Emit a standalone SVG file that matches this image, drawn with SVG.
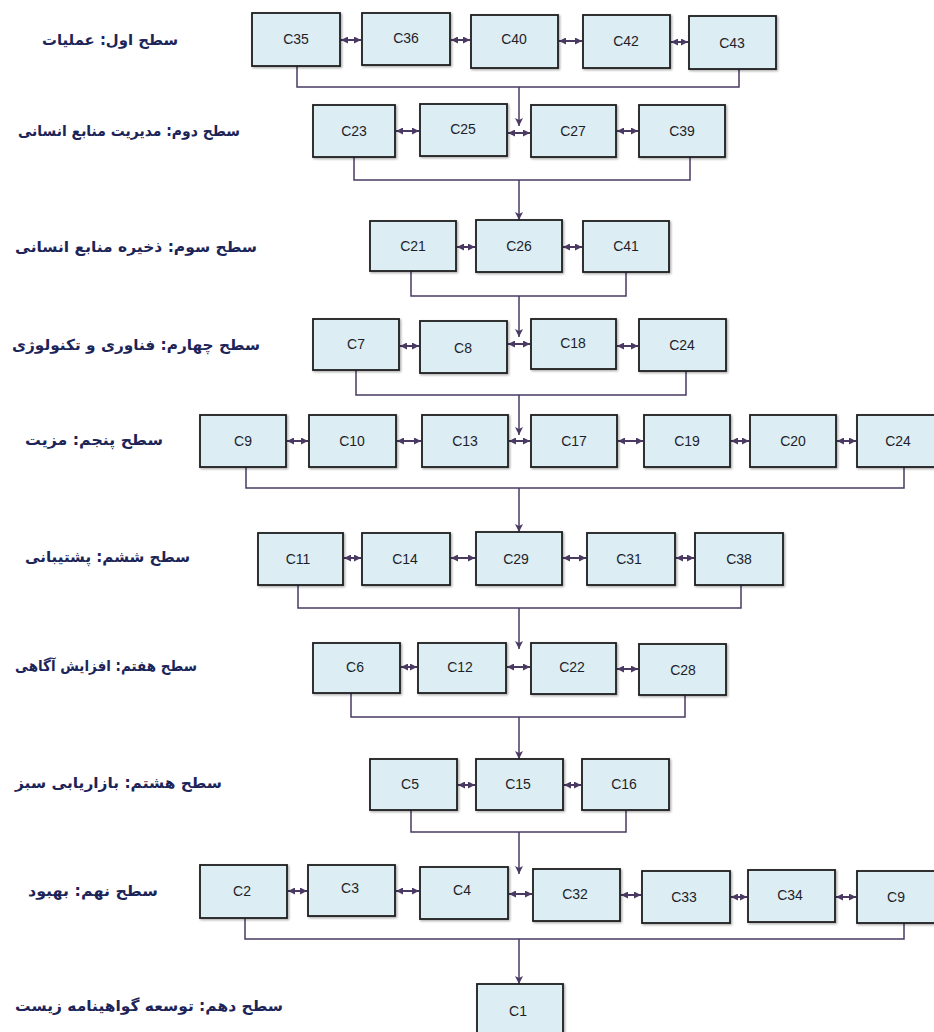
<svg xmlns="http://www.w3.org/2000/svg" width="934" height="1032" viewBox="0 0 934 1032">
<defs>
<marker id="ah" viewBox="0 0 8 8" refX="8" refY="4" markerWidth="8" markerHeight="8" markerUnits="userSpaceOnUse" orient="auto-start-reverse">
<path d="M0,0 L8,4 L0,8 L2,4 z" fill="#4a3a63"/>
</marker>
<marker id="dh" viewBox="0 0 6 6" refX="6" refY="3" markerWidth="7" markerHeight="7" markerUnits="userSpaceOnUse" orient="auto-start-reverse">
<path d="M0,0 L6,3 L0,6 z" fill="#4a3a63"/>
</marker>
<filter id="sh" x="-5%" y="-5%" width="115%" height="115%">
<feDropShadow dx="1.2" dy="1.2" stdDeviation="0.8" flood-color="#000" flood-opacity="0.35"/>
</filter>
</defs>
<style>
.b rect{fill:#dcedf3;stroke:#1c1c1c;stroke-width:1.8;filter:url(#sh)}
.b text{font-family:"Liberation Sans",Arial,sans-serif;font-size:14px;fill:#1e1e2a;text-anchor:middle}
.lab{font-family:"DejaVu Sans","Noto Sans",sans-serif;font-size:15px;font-weight:bold;fill:#1c2458;text-anchor:end}
.c path{fill:none;stroke:#4a3a63;stroke-width:1.5}
.c .a{marker-end:url(#ah)}
.c .d{stroke-width:2;marker-start:url(#dh);marker-end:url(#dh)}
</style>
<rect width="934" height="1032" fill="#ffffff"/>

<g id="labels">
<text class="lab" x="178" y="45" textLength="136" lengthAdjust="spacingAndGlyphs">سطح اول: عملیات</text>
<text class="lab" x="240" y="136" textLength="222" lengthAdjust="spacingAndGlyphs">سطح دوم: مدیریت منابع انسانی</text>
<text class="lab" x="257" y="252" textLength="242" lengthAdjust="spacingAndGlyphs">سطح سوم: ذخیره منابع انسانی</text>
<text class="lab" x="260" y="350" textLength="248" lengthAdjust="spacingAndGlyphs">سطح چهارم: فناوری و تکنولوژی</text>
<text class="lab" x="163" y="445" textLength="138" lengthAdjust="spacingAndGlyphs">سطح پنجم: مزیت</text>
<text class="lab" x="190" y="562" textLength="165" lengthAdjust="spacingAndGlyphs">سطح ششم: پشتیبانی</text>
<text class="lab" x="197" y="671" textLength="182" lengthAdjust="spacingAndGlyphs">سطح هفتم: افزایش آگاهی</text>
<text class="lab" x="222" y="788" textLength="207" lengthAdjust="spacingAndGlyphs">سطح هشتم: بازاریابی  سبز</text>
<text class="lab" x="158" y="896" textLength="130" lengthAdjust="spacingAndGlyphs">سطح نهم: بهبود</text>
<text class="lab" x="283" y="1011" textLength="268" lengthAdjust="spacingAndGlyphs">سطح دهم: توسعه گواهینامه زیست</text>
</g>

<g id="connectors" class="c">
<path d="M297,66 V87 H739 V69"/>
<path class="a" d="M519,87 V126"/>
<path class="d" d="M341,40 H361"/>
<path class="d" d="M451,40 H470"/>
<path class="d" d="M559,41 H582"/>
<path class="d" d="M671,42 H688"/>
<path d="M354,157 V180 H690 V157"/>
<path class="a" d="M519,180 V220"/>
<path class="d" d="M396,131 H419"/>
<path class="d" d="M508,133 H530"/>
<path class="d" d="M617,131 H638"/>
<path d="M411,271 V296 H626 V272"/>
<path class="a" d="M519,296 V337"/>
<path class="d" d="M457,247 H475"/>
<path class="d" d="M563,247 H582"/>
<path d="M356,370 V395 H686 V371"/>
<path class="a" d="M519,395 V435"/>
<path class="d" d="M400,346 H419"/>
<path class="d" d="M508,344 H530"/>
<path class="d" d="M617,346 H638"/>
<path d="M246,467 V488 H904 V467"/>
<path class="a" d="M519,488 V532"/>
<path class="d" d="M287,441 H308"/>
<path class="d" d="M397,441 H421"/>
<path class="d" d="M509,441 H530"/>
<path class="d" d="M618,441 H643"/>
<path class="d" d="M731,441 H749"/>
<path class="d" d="M837,441 H856"/>
<path d="M298,585 V608 H741 V585"/>
<path class="a" d="M519,608 V649"/>
<path class="d" d="M344,558 H361"/>
<path class="d" d="M451,558 H475"/>
<path class="d" d="M563,558 H586"/>
<path class="d" d="M676,558 H694"/>
<path d="M351,693 V717 H685 V695"/>
<path class="a" d="M519,717 V759"/>
<path class="d" d="M401,667 H417"/>
<path class="d" d="M507,667 H530"/>
<path class="d" d="M617,669 H638"/>
<path d="M411,810 V832 H626 V810"/>
<path class="a" d="M519,832 V874"/>
<path class="d" d="M458,785 H475"/>
<path class="d" d="M564,785 H581"/>
<path d="M245,918 V939 H904 V923"/>
<path class="a" d="M519,939 V984"/>
<path class="d" d="M288,891 H307"/>
<path class="d" d="M396,891 H419"/>
<path class="d" d="M509,894 H532"/>
<path class="d" d="M621,895 H641"/>
<path class="d" d="M731,897 H747"/>
<path class="d" d="M836,897 H856"/>
</g>

<g id="n-C35" class="b"><rect x="252" y="13" width="88" height="53"/><text x="296" y="44">C35</text></g>
<g id="n-C36" class="b"><rect x="362" y="13" width="88" height="52"/><text x="406" y="43">C36</text></g>
<g id="n-C40" class="b"><rect x="471" y="15" width="87" height="53"/><text x="514" y="44">C40</text></g>
<g id="n-C42" class="b"><rect x="583" y="15" width="87" height="53"/><text x="626" y="46">C42</text></g>
<g id="n-C43" class="b"><rect x="689" y="16" width="87" height="53"/><text x="732" y="48">C43</text></g>

<g id="n-C23" class="b"><rect x="313" y="105" width="82" height="52"/><text x="354" y="136">C23</text></g>
<g id="n-C25" class="b"><rect x="420" y="104" width="87" height="52"/><text x="463" y="134">C25</text></g>
<g id="n-C27" class="b"><rect x="531" y="105" width="85" height="52"/><text x="573" y="136">C27</text></g>
<g id="n-C39" class="b"><rect x="639" y="105" width="86" height="52"/><text x="682" y="136">C39</text></g>

<g id="n-C21" class="b"><rect x="370" y="221" width="86" height="50"/><text x="413" y="251">C21</text></g>
<g id="n-C26" class="b"><rect x="476" y="220" width="86" height="52"/><text x="519" y="251">C26</text></g>
<g id="n-C41" class="b"><rect x="583" y="221" width="86" height="51"/><text x="626" y="251">C41</text></g>

<g id="n-C7" class="b"><rect x="313" y="319" width="86" height="51"/><text x="356" y="349">C7</text></g>
<g id="n-C8" class="b"><rect x="420" y="321" width="87" height="52"/><text x="463" y="353">C8</text></g>
<g id="n-C18" class="b"><rect x="531" y="319" width="85" height="50"/><text x="573" y="348">C18</text></g>
<g id="n-C24a" class="b"><rect x="639" y="319" width="87" height="52"/><text x="682" y="350">C24</text></g>

<g id="n-C9a" class="b"><rect x="200" y="415" width="86" height="52"/><text x="243" y="446">C9</text></g>
<g id="n-C10" class="b"><rect x="309" y="415" width="87" height="52"/><text x="352" y="446">C10</text></g>
<g id="n-C13" class="b"><rect x="422" y="415" width="86" height="52"/><text x="465" y="446">C13</text></g>
<g id="n-C17" class="b"><rect x="531" y="415" width="86" height="52"/><text x="574" y="446">C17</text></g>
<g id="n-C19" class="b"><rect x="644" y="415" width="86" height="52"/><text x="687" y="446">C19</text></g>
<g id="n-C20" class="b"><rect x="750" y="415" width="86" height="52"/><text x="793" y="446">C20</text></g>
<g id="n-C24b" class="b"><rect x="857" y="415" width="86" height="52"/><text x="898" y="446">C24</text></g>

<g id="n-C11" class="b"><rect x="258" y="533" width="85" height="52"/><text x="298" y="564">C11</text></g>
<g id="n-C14" class="b"><rect x="362" y="533" width="88" height="52"/><text x="405" y="564">C14</text></g>
<g id="n-C29" class="b"><rect x="476" y="532" width="86" height="53"/><text x="516" y="564">C29</text></g>
<g id="n-C31" class="b"><rect x="587" y="533" width="88" height="52"/><text x="629" y="564">C31</text></g>
<g id="n-C38" class="b"><rect x="695" y="533" width="88" height="52"/><text x="739" y="564">C38</text></g>

<g id="n-C6" class="b"><rect x="313" y="643" width="87" height="50"/><text x="355" y="672">C6</text></g>
<g id="n-C12" class="b"><rect x="418" y="643" width="88" height="50"/><text x="460" y="672">C12</text></g>
<g id="n-C22" class="b"><rect x="531" y="643" width="85" height="51"/><text x="572" y="672">C22</text></g>
<g id="n-C28" class="b"><rect x="639" y="644" width="87" height="51"/><text x="683" y="675">C28</text></g>

<g id="n-C5" class="b"><rect x="370" y="759" width="87" height="51"/><text x="410" y="789">C5</text></g>
<g id="n-C15" class="b"><rect x="476" y="759" width="87" height="51"/><text x="518" y="789">C15</text></g>
<g id="n-C16" class="b"><rect x="582" y="759" width="87" height="51"/><text x="624" y="789">C16</text></g>

<g id="n-C2" class="b"><rect x="200" y="865" width="87" height="53"/><text x="242" y="896">C2</text></g>
<g id="n-C3" class="b"><rect x="308" y="865" width="87" height="51"/><text x="350" y="893">C3</text></g>
<g id="n-C4" class="b"><rect x="420" y="867" width="88" height="52"/><text x="462" y="895">C4</text></g>
<g id="n-C32" class="b"><rect x="533" y="869" width="87" height="52"/><text x="575" y="899">C32</text></g>
<g id="n-C33" class="b"><rect x="642" y="871" width="88" height="52"/><text x="684" y="902">C33</text></g>
<g id="n-C34" class="b"><rect x="748" y="870" width="87" height="52"/><text x="790" y="900">C34</text></g>
<g id="n-C9b" class="b"><rect x="857" y="871" width="86" height="52"/><text x="896" y="902">C9</text></g>

<g id="n-C1" class="b"><rect x="477" y="984" width="86" height="56"/><text x="518" y="1016">C1</text></g>
</svg>
